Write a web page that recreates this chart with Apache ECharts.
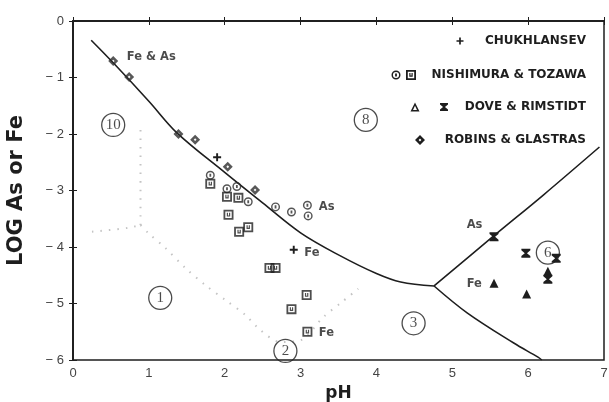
<!DOCTYPE html>
<html><head><meta charset="utf-8">
<script src="https://cdn.jsdelivr.net/npm/echarts@6/dist/echarts.min.js"></script>
<style>html,body{margin:0;padding:0;background:#fff}#c{width:609px;height:402px}</style>
</head><body><div id="c"></div>
<script>
// Boundary curves
const mainCurvePH  = [0.24, 0.53, 1.0, 1.37, 2.0, 2.5, 3.0, 3.5, 4.0, 4.32, 4.76];
const mainCurveLog = [-0.34, -0.74, -1.42, -1.98, -2.68, -3.22, -3.75, -4.14, -4.47, -4.62, -4.69];
const upperBranchPH  = [4.76, 5.55, 6.2, 6.94];
const upperBranchLog = [-4.69, -3.80, -3.08, -2.23];
const lowerBranchPH  = [4.76, 5.2, 5.81, 6.13, 6.18];
const lowerBranchLog = [-4.69, -5.17, -5.70, -5.95, -6.0];
// Dotted boundaries
const dotVertPH  = [0.89, 0.89];
const dotVertLog = [-1.93, -3.61];
const dotHorizPH  = [0.25, 0.73, 0.89];
const dotHorizLog = [-3.73, -3.66, -3.61];
const dotLowerPH  = [0.89, 0.99, 1.22, 1.48, 1.74, 2.01, 2.27, 2.47, 2.73, 3.0, 3.30, 3.53, 3.76];
const dotLowerLog = [-3.61, -3.75, -4.02, -4.37, -4.67, -4.94, -5.2, -5.47, -5.68, -5.65, -5.24, -4.99, -4.74];
// Data points
const chukhPH  = [1.90, 2.91];
const chukhLog = [-2.41, -4.05];
const nishAsPH  = [1.81, 2.03, 2.16, 2.31, 2.67, 2.88, 3.09, 3.10];
const nishAsLog = [-2.73, -2.97, -2.93, -3.20, -3.29, -3.38, -3.26, -3.45];
const nishFePH  = [1.81, 2.03, 2.18, 2.05, 2.19, 2.31, 2.59, 2.67, 3.08, 2.88, 3.09];
const nishFeLog = [-2.88, -3.11, -3.13, -3.43, -3.73, -3.65, -4.37, -4.37, -4.85, -5.10, -5.50];
const doveFePH  = [5.55, 5.98, 6.26];
const doveFeLog = [-4.64, -4.83, -4.43];
const doveAsPH  = [5.55, 5.97, 6.37, 6.26];
const doveAsLog = [-3.82, -4.11, -4.20, -4.57];
const robinsPH  = [0.53, 0.74, 1.39, 1.61, 2.04, 2.40];
const robinsLog = [-0.71, -0.99, -2.00, -2.10, -2.58, -2.99];
// Region labels (circled)
const regionText = ['10', '8', '1', '2', '3', '6'];
const regionPH   = [0.53, 3.86, 1.15, 2.80, 4.49, 6.26];
const regionLog  = [-1.84, -1.75, -4.90, -5.84, -5.35, -4.10];
// Annotations
const noteText = ['Fe & As', 'As', 'Fe', 'Fe', 'As', 'Fe'];
const notePH   = [0.71, 3.24, 3.05, 3.24, 5.19, 5.19];
const noteLog  = [-0.64, -3.29, -4.11, -5.52, -3.61, -4.65];
// Legend
const legendNames = ['CHUKHLANSEV', 'NISHIMURA & TOZAWA', 'DOVE & RIMSTIDT', 'ROBINS & GLASTRAS'];
const xTicks = [0, 1, 2, 3, 4, 5, 6, 7];
const yTicks = [0, -1, -2, -3, -4, -5, -6];

const zip = (a, b) => a.map((v, i) => [v, b[i]]);
const INK = '#1e1e1e';
const BOLD = 'DejaVu Sans';
const PLUS = 'path://M3.8,0H6.2V3.8H10V6.2H6.2V10H3.8V6.2H0V3.8H3.8Z';
const HOUR = 'path://M0,0H10V1.8L6.2,5L10,8.2V10H0V8.2L3.8,5L0,1.8Z';
const RECTU = 'path://M0,0H10V10H0Z M1.8,1.8V8.2H8.2V1.8Z M3.3,3V6.8H6.7V3H5.5V5.6H4.5V3Z';
const RING = 'path://M5,0A5,5,0,1,1,4.99,0Z M5,1.6A3.4,3.4,0,1,0,5.01,1.6Z M4,3.3H6V6.7H4Z';
const DIAM = 'path://M5,0L10,5L5,10L0,5Z M5,3.6L3.6,5L5,6.4L6.4,5Z';
const TRI_OPEN = 'path://M5,0L10,9H0Z M5,3.2L2.8,7.4H7.2Z';

const chart = echarts.init(document.getElementById('c'), null, {renderer: 'canvas'});
const lineS = (ph, lg) => ({type: 'line', data: zip(ph, lg), symbol: 'none', smooth: 0.35,
  lineStyle: {color: INK, width: 1.6}, z: 3, silent: true});
const dotS = (ph, lg) => ({type: 'line', data: zip(ph, lg), symbol: 'none', smooth: 0.3,
  lineStyle: {color: '#c4c4c4', width: 2, type: [1.5, 7]}, z: 2, silent: true});
const scat = (ph, lg, sym, size, extra) => Object.assign({type: 'scatter', data: zip(ph, lg),
  symbol: sym, symbolSize: size, itemStyle: {color: INK, opacity: 1}, z: 5}, extra || {});

// legend icon positions in page pixels (layout only)
const legendIconX = [460, 396, 411, 415, 444, 420];
const legendIconY = [41, 75, 75, 107, 107, 140];
const legendIconSym = [PLUS, RING, RECTU, TRI_OPEN, HOUR, DIAM];
const legendIconSize = [7, 9, 10, 9, 8, 10];

const hiddenAxis = {type: 'value', show: false, splitLine: {show: false}};
const option = {
  animation: false,
  backgroundColor: '#fff',
  grid: [
    {left: 73, right: 5, top: 21, bottom: 42, show: true, borderColor: INK, borderWidth: 1.5,
     containLabel: false, outerBoundsMode: 'none'},
    {left: 0, right: 0, top: 0, bottom: 0, containLabel: false, outerBoundsMode: 'none'}
  ],
  xAxis: [{
    type: 'value', min: 0, max: 7, interval: 1, position: 'bottom', gridIndex: 0,
    name: 'pH', nameLocation: 'middle', nameGap: 25,
    nameTextStyle: {fontFamily: BOLD, fontWeight: 'bold', fontSize: 17, color: INK},
    axisLine: {show: true, lineStyle: {color: INK, width: 1.5}},
    axisTick: {show: true, inside: true, length: 4, lineStyle: {color: INK}},
    axisLabel: {fontFamily: 'Liberation Sans', fontSize: 13, color: '#444', margin: 7},
    splitLine: {show: false}
  }, {
    type: 'value', min: 0, max: 7, interval: 1, position: 'top', gridIndex: 0,
    axisLine: {show: true, lineStyle: {color: INK, width: 1.5}},
    axisTick: {show: true, inside: true, length: 4, lineStyle: {color: INK}},
    axisLabel: {show: false}, splitLine: {show: false}
  }, Object.assign({gridIndex: 1, min: 0, max: 609}, hiddenAxis)],
  yAxis: [{
    type: 'value', min: -6, max: 0, interval: 1, position: 'left', gridIndex: 0,
    name: 'LOG As or Fe', nameLocation: 'middle', nameGap: 46, nameRotate: 90,
    nameTextStyle: {fontFamily: BOLD, fontWeight: 'bold', fontSize: 21, color: INK},
    axisLine: {show: true, lineStyle: {color: INK, width: 1.5}},
    axisTick: {show: true, inside: true, length: 4, lineStyle: {color: INK}},
    axisLabel: {fontFamily: 'Liberation Sans', fontSize: 13, color: '#444', margin: 9,
      formatter: v => v === 0 ? '0' : '\u2212 ' + Math.abs(v)},
    splitLine: {show: false}
  }, {
    type: 'value', min: -6, max: 0, interval: 1, position: 'right', gridIndex: 0,
    axisLine: {show: true, lineStyle: {color: INK, width: 1.5}},
    axisTick: {show: true, inside: true, length: 4, lineStyle: {color: INK}},
    axisLabel: {show: false}, splitLine: {show: false}
  }, Object.assign({gridIndex: 1, min: 0, max: 402, inverse: true}, hiddenAxis)],
  series: [
    lineS(mainCurvePH, mainCurveLog),
    lineS(upperBranchPH, upperBranchLog),
    lineS(lowerBranchPH, lowerBranchLog),
    dotS(dotVertPH, dotVertLog),
    dotS(dotHorizPH, dotHorizLog),
    dotS(dotLowerPH, dotLowerLog),
    scat(chukhPH, chukhLog, PLUS, 8),
    scat(nishAsPH, nishAsLog, RING, 9, {itemStyle: {color: '#2a2a2a'}}),
    scat(nishFePH, nishFeLog, RECTU, 10, {itemStyle: {color: '#222'}}),
    scat(doveFePH, doveFeLog, 'triangle', 9),
    scat(doveAsPH, doveAsLog, HOUR, [9, 9]),
    scat(robinsPH, robinsLog, DIAM, 10, {itemStyle: {color: '#2e2e2e'}}),
    {
      type: 'scatter', data: zip(regionPH, regionLog).map((p, i) => ({value: p, name: regionText[i]})),
      symbol: 'circle', symbolSize: 23, z: 4,
      itemStyle: {color: 'rgba(255,255,255,0)', borderColor: INK, borderWidth: 1.3},
      label: {show: true, position: 'inside', formatter: p => p.name,
        fontFamily: 'Liberation Serif', fontSize: 15, color: INK}
    },
    {
      type: 'scatter', data: zip(notePH, noteLog).map((p, i) => ({value: p, name: noteText[i]})),
      symbol: 'circle', symbolSize: 0, z: 6,
      label: {show: true, position: 'right', distance: 0, formatter: p => p.name,
        fontFamily: BOLD, fontWeight: 'bold', fontSize: 11.5, color: INK}
    },
    {
      type: 'scatter', xAxisIndex: 2, yAxisIndex: 2, z: 7, silent: true,
      data: legendIconX.map((x, i) => ({value: [x, legendIconY[i]], symbol: legendIconSym[i], symbolSize: legendIconSize[i]})),
      itemStyle: {color: INK, opacity: 1}
    }
  ],
  graphic: []
};

const lgY = [41, 75, 107, 140];
legendNames.forEach((n, i) => option.graphic.push({type: 'text', x: 586, y: lgY[i],
  style: {text: n, fontFamily: BOLD, fontWeight: 'bold', fontSize: 12, fill: INK,
    textAlign: 'right', textVerticalAlign: 'middle'}}));

chart.setOption(option);
</script></body></html>
